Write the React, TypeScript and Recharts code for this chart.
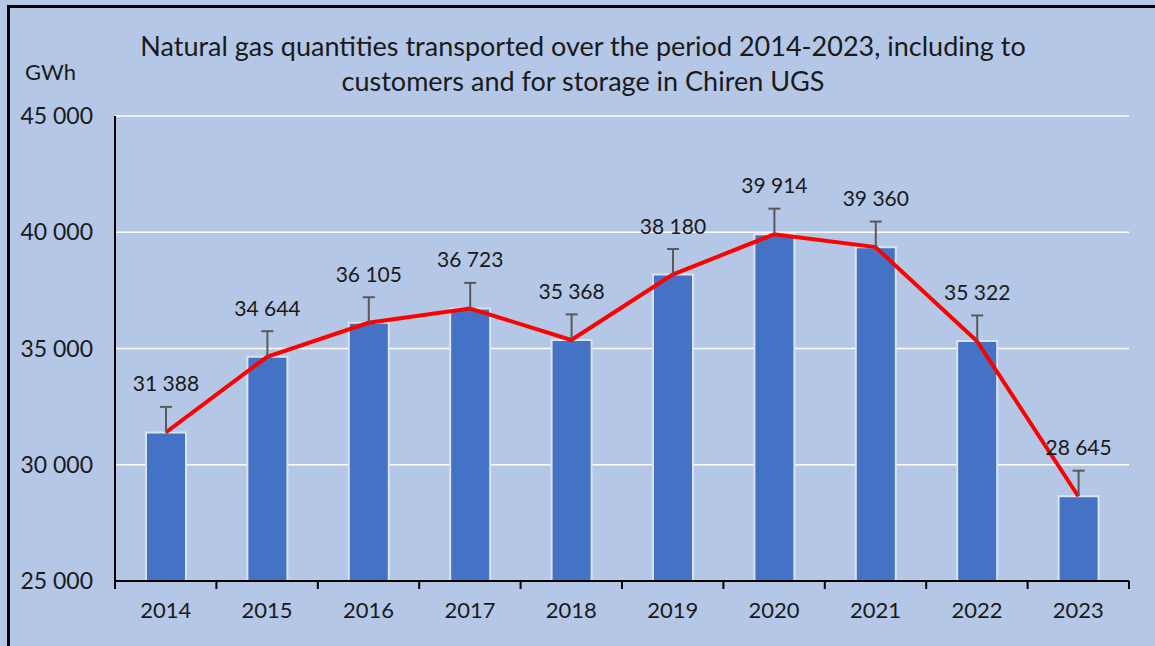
import { ComposedChart, Bar, Line, XAxis, YAxis, CartesianGrid, LabelList } from "recharts";

const years = ["2014", "2015", "2016", "2017", "2018", "2019", "2020", "2021", "2022", "2023"];
const quantities = [31388, 34644, 36105, 36723, 35368, 38180, 39914, 39360, 35322, 28645];
const upperErrors = [1100, 1100, 1100, 1100, 1100, 1100, 1100, 1100, 1100, 1100];
const yTicks = [25000, 30000, 35000, 40000, 45000];
const Y_MIN = 25000;
const Y_MAX = 45000;

const data = years.map((year, i) => ({
  year,
  value: quantities[i],
  err: upperErrors[i],
}));

const W = 1155;
const H = 646;
const MARGIN = { top: 116, right: 26, bottom: 35, left: 0 };
const Y_AXIS_W = 115;
const HALF_BAND = (W - MARGIN.right - Y_AXIS_W) / years.length / 2;
const FONT = "Lato, 'Open Sans', sans-serif";
const TEXT = "#1a1a1a";

const fmt = (v: number) => String(v).replace(/\B(?=(\d{3})+(?!\d))/g, " ");

function YearTick(props: any) {
  const { x, y, payload, index } = props;
  const last = index === years.length - 1;
  return (
    <g>
      <line x1={x - HALF_BAND} x2={x - HALF_BAND} y1={y - 8} y2={y} stroke="#000" strokeWidth={2} />
      {last && <line x1={x + HALF_BAND} x2={x + HALF_BAND} y1={y - 8} y2={y} stroke="#000" strokeWidth={2} />}
      <text x={x} y={y + 29} textAnchor="middle" fontSize={22} fontFamily={FONT} fill={TEXT}>
        {payload.value}
      </text>
    </g>
  );
}

// upper-only error bar + value label; pixel size of the error taken from the bar's own scale
function ValueLabel(props: any) {
  const { x, y, width, height, value, index } = props;
  const cx = x + width / 2;
  const pxPerUnit = height / (value - Y_MIN);
  const top = y - upperErrors[index] * pxPerUnit;
  return (
    <g>
      <line x1={cx} x2={cx} y1={y} y2={top} stroke="#595959" strokeWidth={2} />
      <line x1={cx - 6} x2={cx + 6} y1={top} y2={top} stroke="#595959" strokeWidth={2} />
      <text x={cx} y={y - 41} textAnchor="middle" fontSize={21} fontFamily={FONT} fill={TEXT}>
        {fmt(value)}
      </text>
    </g>
  );
}

export default function App() {
  return (
    <div
      style={{
        position: "absolute",
        left: 0,
        top: 0,
        width: W,
        height: H,
        background: "#B4C7E7",
        overflow: "hidden",
        fontFamily: FONT,
      }}
    >
      <div style={{ position: "absolute", left: 7, top: 5, width: 3, height: H, background: "#000" }} />
      <div style={{ position: "absolute", left: 7, top: 5, width: W, height: 3, background: "#000" }} />
      <ComposedChart width={W} height={H} data={data} margin={MARGIN} barSize={40}>
        <CartesianGrid vertical={false} horizontal stroke="#ffffff" strokeWidth={1.5} />
        <XAxis
          dataKey="year"
          height={30}
          tickSize={8}
          tickMargin={0}
          tickLine={false}
          axisLine={{ stroke: "#000", strokeWidth: 2 }}
          tick={<YearTick />}
          interval={0}
        />
        <XAxis xAxisId="top" dataKey="year" orientation="top" height={0} tick={false} tickLine={false} axisLine={{ stroke: "#000", strokeWidth: 2 }} />
        <YAxis
          width={Y_AXIS_W}
          domain={[Y_MIN, Y_MAX]}
          ticks={yTicks}
          tickFormatter={fmt}
          tickLine={false}
          tickSize={6}
          tickMargin={16}
          axisLine={{ stroke: "#000", strokeWidth: 2 }}
          tick={{ fontSize: 23, fontFamily: FONT, fill: TEXT }}
        />
        <YAxis yAxisId="right" orientation="right" width={0} domain={[Y_MIN, Y_MAX]} tick={false} tickLine={false} axisLine={{ stroke: "#000", strokeWidth: 2 }} />
        <Bar dataKey="value" fill="#4472C4" stroke="#DCE4F2" strokeWidth={2} isAnimationActive={false}>
          <LabelList dataKey="value" content={<ValueLabel />} />
        </Bar>
        <Line dataKey="value" type="linear" stroke="#FF0000" strokeWidth={4} dot={false} activeDot={false} isAnimationActive={false} />
      </ComposedChart>
      <div
        style={{
          position: "absolute",
          left: 0,
          top: 28,
          width: 1166,
          textAlign: "center",
          fontSize: 27,
          lineHeight: "35px",
          color: TEXT,
        }}
      >
        Natural gas quantities transported over the period 2014-2023, including to
        <br />
        customers and for storage in Chiren UGS
      </div>
      <div style={{ position: "absolute", left: 25, top: 58, fontSize: 22, color: TEXT }}>GWh</div>
    </div>
  );
}
